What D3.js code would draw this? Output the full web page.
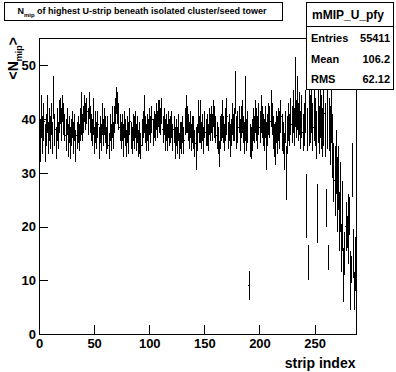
<!DOCTYPE html>
<html>
<head>
<meta charset="utf-8">
<script src="https://cdn.jsdelivr.net/npm/d3@7"></script>
<style>
  body { margin: 0; background: #fff; }
  svg { display: block; font-family: "Liberation Sans", Arial, sans-serif; font-weight: bold; }
  line, rect { shape-rendering: crispEdges; }
</style>
</head>
<body>
<svg width="396" height="372"></svg>
<script>
// mean <N_mip> per strip (bins 0..287)
var means = [
  38.5, 36.0, 40.5, 37.0, 39.5, 35.5, 38.0, 41.0, 36.5, 39.0, 37.5, 40.0,
  36.5, 44.0, 38.0, 35.5, 39.0, 37.0, 40.5, 41.5, 39.0, 42.0, 40.0, 38.5,
  37.0, 39.5, 36.0, 38.0, 35.5, 37.5, 39.0, 36.5, 38.5, 35.0, 37.0, 38.0,
  36.5, 39.0, 41.0, 38.5, 40.0, 42.0, 40.5, 41.5, 39.5, 42.5, 40.0, 38.5,
  37.5, 40.5, 36.0, 38.5, 37.0, 39.0, 35.5, 38.0, 36.5, 40.0, 37.5, 39.5,
  38.0, 36.0, 37.5, 35.0, 38.5, 36.5, 39.5, 37.0, 40.0, 41.5, 43.5, 42.0,
  40.5, 38.5, 37.0, 38.5, 36.0, 39.0, 37.5, 35.5, 38.0, 36.5, 39.5, 37.0,
  36.0, 38.5, 37.5, 39.0, 36.5, 38.0, 35.5, 36.5, 35.0, 37.5, 39.0, 41.0,
  38.0, 36.5, 38.5, 37.0, 39.5, 38.0, 40.0, 37.5, 39.0, 38.5, 40.5, 39.0,
  41.0, 40.5, 39.5, 41.5, 38.0, 39.5, 37.0, 38.5, 36.5, 39.0, 37.5, 38.0,
  39.0, 36.5, 38.0, 35.5, 37.5, 36.0, 38.5, 35.0, 37.0, 36.5, 38.0, 36.0,
  39.5, 41.0, 40.0, 38.5, 37.0, 39.0, 36.5, 38.0, 37.5, 35.5, 34.5, 36.5,
  40.5, 38.0, 39.5, 37.0, 38.5, 36.0, 39.0, 37.5, 38.0, 36.5, 39.5, 38.5,
  40.0, 38.5, 41.0, 39.5, 38.0, 37.0, 36.0, 33.5, 37.5, 38.5, 40.0, 38.0,
  36.5, 39.0, 40.5, 37.0, 38.5, 36.0, 37.5, 40.0, 38.5, 39.0, 45.0, 37.5,
  38.5, 40.0, 37.0, 39.5, 40.5, 38.0, 36.5, 42.0, 37.0, 38.5,  9.0, 36.0,
  35.5, 37.0, 39.0, 38.0, 40.5, 39.0, 37.5, 40.0, 38.5, 41.0, 39.5, 38.0,
  37.0, 39.5, 35.0, 38.0, 40.0, 39.5, 42.0, 40.0, 37.5, 36.0, 35.5, 38.5,
  37.0, 39.0, 38.0, 40.5, 37.5, 36.5, 34.0, 38.5, 30.0, 37.0, 39.5, 38.0,
  40.5, 39.0, 41.5, 38.5, 45.0, 40.0, 43.0, 39.5, 41.0, 38.0, 40.5, 37.5,
  39.0, 41.5, 23.8, 38.0, 13.3, 43.0, 40.0, 42.5, 38.5, 41.0, 39.5, 37.0,
  22.5, 40.5, 38.0, 42.0, 39.5, 37.5, 41.0, 38.0, 23.4, 40.0, 14.2, 39.0,
  37.0, 41.5, 35.0, 30.0, 28.5, 32.0, 26.0, 29.0, 21.0, 25.5, 16.0, 22.0,
  11.0, 15.0, 20.0, 19.0, 19.5, 22.0, 10.0, 12.0, 30.5, 15.0,  8.0, 13.0
];
// error on the mean per strip
var errors = [
  4.5, 4.0, 4.0, 3.5, 3.5, 3.5, 3.0, 3.5, 3.0, 3.0, 3.0, 3.0,
  3.0, 4.0, 3.0, 3.0, 3.0, 2.5, 3.0, 2.5, 3.0, 2.5, 3.0, 2.5,
  3.0, 2.5, 3.0, 2.5, 3.0, 2.5, 2.5, 3.0, 2.5, 3.0, 2.5, 2.5,
  2.5, 3.0, 4.0, 2.5, 2.5, 2.5, 2.5, 2.5, 2.5, 2.5, 2.5, 2.5,
  2.5, 3.5, 2.5, 3.0, 2.5, 2.5, 3.0, 2.5, 2.5, 3.0, 2.5, 2.5,
  2.5, 2.5, 3.0, 2.5, 2.5, 2.5, 3.0, 2.5, 2.5, 2.5, 2.5, 3.0,
  2.5, 2.5, 2.5, 2.5, 3.0, 2.5, 2.5, 2.5, 2.5, 3.0, 2.5, 2.5,
  2.5, 2.5, 3.0, 2.5, 2.5, 2.5, 2.5, 3.0, 2.5, 2.5, 2.5, 3.5,
  2.5, 2.5, 2.5, 3.0, 2.5, 2.5, 2.5, 2.5, 2.5, 2.5, 2.5, 2.5,
  2.5, 3.0, 2.5, 2.5, 2.5, 2.5, 3.0, 2.5, 2.5, 2.5, 2.5, 2.5,
  2.5, 2.5, 2.5, 3.0, 2.5, 2.5, 2.5, 2.5, 2.5, 3.0, 2.5, 2.5,
  2.5, 3.5, 2.5, 2.5, 2.5, 2.5, 2.5, 2.5, 3.0, 2.5, 4.0, 2.5,
  3.0, 2.5, 4.0, 2.5, 2.5, 2.5, 2.5, 2.5, 3.0, 2.5, 2.5, 2.5,
  2.5, 2.5, 2.5, 3.0, 2.5, 2.5, 2.5, 2.5, 3.0, 2.5, 3.5, 2.5,
  2.5, 3.0, 3.5, 2.5, 2.5, 3.0, 2.5, 3.0, 2.5, 3.0, 4.0, 3.0,
  3.0, 2.5, 3.0, 3.0, 3.0, 2.5, 3.0, 6.0, 3.0, 3.0, 2.7, 3.0,
  3.0, 3.0, 3.0, 2.5, 3.0, 3.0, 3.0, 3.0, 3.0, 3.5, 3.0, 3.0,
  3.0, 3.0, 4.5, 3.0, 3.0, 3.0, 3.5, 3.0, 3.0, 3.0, 4.0, 3.0,
  3.5, 3.0, 3.5, 3.0, 3.5, 3.0, 3.5, 3.0, 5.0, 3.5, 3.5, 3.0,
  3.5, 3.5, 4.0, 3.5, 6.5, 3.5, 5.0, 3.5, 4.0, 3.5, 4.0, 3.5,
  4.0, 4.0, 5.9, 4.0, 3.2, 8.0, 4.5, 5.0, 4.5, 5.0, 4.5, 4.5,
  5.5, 5.0, 4.5, 5.5, 5.0, 4.5, 6.0, 5.0, 3.5, 5.5, 2.3, 5.0,
  5.5, 6.0, 6.0, 5.5, 6.5, 6.0, 7.0, 6.0, 5.5, 6.5, 4.5, 6.5,
  5.0, 4.0, 4.5, 3.0, 6.5, 3.5, 5.5, 2.5, 5.0, 4.5, 3.5, 5.0
];
var xMajor = [0, 50, 100, 150, 200, 250];
var yMajor = [0, 10, 20, 30, 40, 50];
var statLabels = ["Entries", "Mean", "RMS"];
var statValues = ["55411", "106.2", "62.12"];

var svg = d3.select("svg");
var L = 39, R = 356.5, T = 38, B = 334;
var x = d3.scaleLinear().domain([0, 288]).range([L, R]);
var y = d3.scaleLinear().domain([0, 55.1]).range([B, T]);

// data
svg.append("clipPath").attr("id", "clip")
  .append("rect").attr("x", L).attr("y", T).attr("width", R - L).attr("height", B - T);
var g = svg.append("g").attr("clip-path", "url(#clip)")
  .attr("stroke", "#000").attr("stroke-width", 1);
var bins = means.map(function (m, i) { return { i: i, m: m, e: errors[i] }; });
g.selectAll("line.err").data(bins).enter().append("line").attr("class", "err")
  .attr("x1", function (d) { return x(d.i + 0.5); })
  .attr("x2", function (d) { return x(d.i + 0.5); })
  .attr("y1", function (d) { return y(d.m - d.e); })
  .attr("y2", function (d) { return y(d.m + d.e); });
g.selectAll("line.bw").data(bins).enter().append("line").attr("class", "bw")
  .attr("x1", function (d) { return x(d.i); })
  .attr("x2", function (d) { return x(d.i + 1); })
  .attr("y1", function (d) { return y(d.m); })
  .attr("y2", function (d) { return y(d.m); });

// axes, ROOT style ticks inside
var ax = svg.append("g").attr("transform", "translate(0," + B + ")");
ax.call(d3.axisBottom(x).tickValues(d3.range(0, 290, 10)).tickSize(-5).tickFormat(""));
ax.call(d3.axisBottom(x).tickValues(xMajor).tickSize(-9).tickPadding(5).tickFormat(d3.format("d")));
var ay = svg.append("g").attr("transform", "translate(" + L + ",0)");
ay.call(d3.axisLeft(y).tickValues(d3.range(0, 55, 2)).tickSize(-5).tickFormat(""));
ay.call(d3.axisLeft(y).tickValues(yMajor).tickSize(-9).tickPadding(3).tickFormat(d3.format("d")));
svg.selectAll(".domain").remove();
svg.selectAll(".tick line").attr("stroke", "#000");
svg.selectAll(".tick text").attr("font-size", 13).attr("font-family", "Liberation Sans, Arial, sans-serif")
  .attr("font-weight", "bold").attr("fill", "#000");

// frame
svg.append("rect").attr("x", L).attr("y", T).attr("width", R - L).attr("height", B - T)
  .attr("fill", "none").attr("stroke", "#000");

// axis titles
svg.append("text").attr("x", R - 1).attr("y", 368).attr("text-anchor", "end")
  .attr("font-size", 14).text("strip index");
var yt = svg.append("text").attr("transform", "translate(18,37) rotate(-90)")
  .attr("text-anchor", "end").attr("font-size", 14);
yt.append("tspan").text("<N");
yt.append("tspan").attr("font-size", 9).attr("dy", 4).text("mip");
yt.append("tspan").attr("dy", -4).text(">");

// title box
svg.append("rect").attr("x", 4.5).attr("y", 2.5).attr("width", 278).attr("height", 17.5)
  .attr("fill", "#fff").attr("stroke", "#000");
var tt = svg.append("text").attr("x", 142).attr("y", 14).attr("text-anchor", "middle")
  .attr("font-size", 9);
tt.append("tspan").text("N");
tt.append("tspan").attr("font-size", 6).attr("dy", 3).text("mip");
tt.append("tspan").attr("dy", -3).text(" of highest U-strip beneath isolated cluster/seed tower");

// stats box
var sb = svg.append("g");
sb.append("rect").attr("x", 306.5).attr("y", 2.5).attr("width", 86.5).attr("height", 86.5)
  .attr("fill", "#fff").attr("stroke", "#000");
sb.append("line").attr("x1", 306.5).attr("x2", 393).attr("y1", 26.5).attr("y2", 26.5).attr("stroke", "#000");
sb.append("text").attr("x", 348).attr("y", 19).attr("text-anchor", "middle")
  .attr("font-size", 12).text("mMIP_U_pfy");
statLabels.forEach(function (s, i) {
  sb.append("text").attr("x", 311).attr("y", 42 + i * 20.5).attr("font-size", 11).text(s);
  sb.append("text").attr("x", 390).attr("y", 42 + i * 20.5).attr("text-anchor", "end")
    .attr("font-size", 11).text(statValues[i]);
});
</script>
</body>
</html>
